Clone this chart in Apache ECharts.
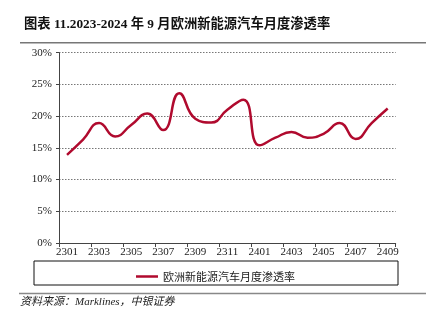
<!DOCTYPE html>
<html><head><meta charset="utf-8">
<script src="https://cdn.jsdelivr.net/npm/echarts@6/dist/echarts.min.js"></script>
<style>html,body{margin:0;padding:0;background:#fff}#c{width:431px;height:324px}</style>
</head><body><div id="c"></div>
<script>
const categories = ['2301','2302','2303','2304','2305','2306','2307','2308','2309','2310','2311','2312','2401','2402','2403','2404','2405','2406','2407','2408','2409'];
const penetration = [13.9,16.3,18.9,16.8,18.6,20.4,17.8,23.6,19.6,19.0,21.0,22.6,15.4,16.6,17.5,16.6,17.2,18.9,16.4,18.9,21.2];
const seriesName = '欧洲新能源汽车月度渗透率';
const yTicks = [0,5,10,15,20,25,30];

const serif = '"Liberation Serif","Noto Sans CJK SC",serif';
const chart = echarts.init(document.getElementById('c'), null, {renderer:'canvas'});
chart.setOption({
  animation:false,
  backgroundColor:'#fff',
  title:{text:'图表 11.2023-2024 年 9 月欧洲新能源汽车月度渗透率', left:19, top:13,
    textStyle:{fontFamily:serif, fontWeight:'bold', fontSize:13.3, color:'#111'}},
  grid:{left:59, right:35.3, top:52.7, bottom:81, containLabel:false},
  xAxis:{type:'category', data:categories, boundaryGap:true,
    axisLine:{lineStyle:{color:'#444', width:1}},
    axisTick:{show:true, interval:1, length:4, lineStyle:{color:'#444'}},
    axisLabel:{interval:1, margin:4, fontFamily:serif, fontSize:11, color:'#222'}},
  yAxis:{type:'value', min:yTicks[0], max:yTicks[yTicks.length-1], interval:5,
    axisLine:{show:true, lineStyle:{color:'#444', width:1}},
    axisTick:{show:true, length:3, lineStyle:{color:'#444'}},
    axisLabel:{formatter:'{value}%', margin:7, fontFamily:serif, fontSize:11, color:'#222'},
    splitLine:{show:true, lineStyle:{color:'#777', type:[1.5,1.5], width:1}}},
  legend:{data:[{name:seriesName, icon:'rect'}], left:'center', top:266, itemWidth:22, itemHeight:2.5, itemGap:4,
    textStyle:{fontFamily:'"Noto Sans CJK SC",sans-serif', fontSize:11, color:'#222'}},
  series:[{name:seriesName, type:'line', data:penetration, smooth:0.5, symbol:'none',
    lineStyle:{color:'#B00A2E', width:2.5}, itemStyle:{color:'#B00A2E'}}],
  graphic:[
    {type:'line', shape:{x1:20,y1:42.7,x2:426,y2:42.7}, style:{stroke:'#777', lineWidth:1.5}},
    {type:'rect', shape:{x:34,y:261,width:364,height:24}, style:{fill:'none', stroke:'#111', lineWidth:1}},
    {type:'line', shape:{x1:19,y1:293.5,x2:426,y2:293.5}, style:{stroke:'#888', lineWidth:1.5}},
    {type:'text', left:20, top:297, style:{text:'资料来源：Marklines，中银证券', fill:'#222',
      font:'italic 11px "Liberation Serif","Noto Sans CJK SC",serif'}}
  ]
});
</script></body></html>
